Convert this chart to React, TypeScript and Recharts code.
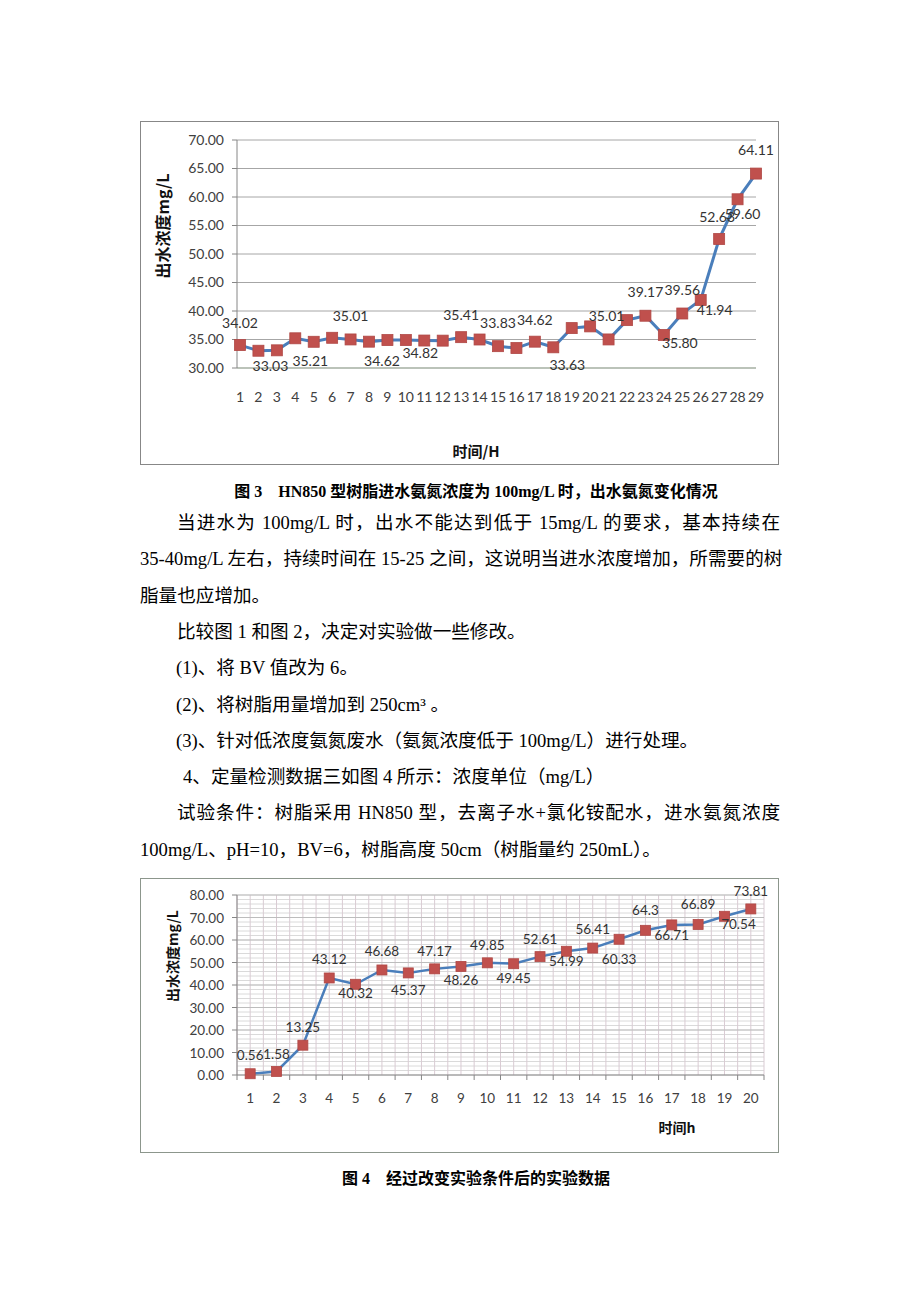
import React from 'react'
import { LineChart, Line, XAxis, YAxis, CartesianGrid, LabelList, ReferenceLine } from 'recharts'

// 图3：HN850 树脂，进水 100mg/L
const hours1 = [1, 2, 3, 4, 5, 6, 7, 8, 9, 10, 11, 12, 13, 14, 15, 16, 17, 18, 19, 20, 21, 22, 23, 24, 25, 26, 27, 28, 29]
const outflow1 = [34.02, 33.03, 33.1, 35.21, 34.6, 35.3, 35.01, 34.62, 34.9, 34.9, 34.82, 34.8, 35.41, 35.0, 33.83, 33.5, 34.62, 33.63, 37.0, 37.3, 35.01, 38.4, 39.17, 35.8, 39.56, 41.94, 52.63, 59.6, 64.11]
const yTicks1 = [30, 35, 40, 45, 50, 55, 60, 65, 70]

// 图4：改变实验条件后
const hours2 = [1, 2, 3, 4, 5, 6, 7, 8, 9, 10, 11, 12, 13, 14, 15, 16, 17, 18, 19, 20]
const outflow2 = [0.56, 1.58, 13.25, 43.12, 40.32, 46.68, 45.37, 47.17, 48.26, 49.85, 49.45, 52.61, 54.99, 56.41, 60.33, 64.3, 66.71, 66.89, 70.54, 73.81]
const yMajor2 = [0, 10, 20, 30, 40, 50, 60, 70, 80]

const rows1 = hours1.map((h, i) => ({ hour: h, value: outflow1[i] }))
const rows2 = hours2.map((h, i) => ({ hour: h, value: outflow2[i] }))

// half-category ticks for the second chart (boundaries + centres)
const xTicks2 = [hours2[0] - 0.5, ...hours2.flatMap(h => [h, h + 0.5])]
const yTicks2 = yMajor2.flatMap((v, i) => (i === 0 ? [v] : [v - 8, v - 6, v - 4, v - 2, v]))

const LATIN = 'Lato, "Noto Sans", sans-serif'
const BODY = '"Liberation Serif", "Noto Sans CJK SC", serif'
const CJK_BOLD = '"Noto Sans CJK SC", sans-serif'
const TICK_COLOR = '#404040'

// label offsets from the marker, per point index (only labelled points listed)
const labelOffsets1: Record<number, [number, number]> = {
  0: [0, -23], 1: [12, 15], 3: [15, 22], 6: [0, -24], 7: [13, 19], 10: [-4, 12],
  12: [0, -23], 14: [0, -24], 16: [0, -22], 17: [14, 17], 20: [-2, -24], 22: [0, -24],
  23: [16, 8], 24: [0, -24], 25: [14, 10], 26: [-2, -23], 27: [5, 14], 28: [0, -24],
}
const labelOffsets2: Record<number, [number, number]> = {
  0: [0, -19], 1: [0, -17], 2: [0, -18], 3: [0, -19], 4: [0, 9], 5: [0, -19], 6: [0, 17],
  7: [0, -18], 8: [0, 14], 9: [0, -18], 10: [0, 14], 11: [0, -18], 12: [0, 10], 13: [0, -19],
  14: [0, 20], 15: [0, -20], 16: [0, 10], 17: [0, -20], 18: [14, 8], 19: [0, -18],
}

function SquareDot(props: any) {
  const { cx, cy, size, index } = props
  if (cx == null || cy == null) return <g key={index} />
  return (
    <rect key={index} x={cx - size / 2} y={cy - size / 2} width={size} height={size}
      fill="#c0504d" stroke="#b04845" strokeWidth={0.8} />
  )
}

function makeLabel(offsets: Record<number, [number, number]>, fmt: (v: number) => string, fontSize: number) {
  return (props: any) => {
    const { x, y, value, index } = props
    const off = offsets[index]
    if (!off) return null
    return (
      <text x={x + off[0]} y={y + off[1]} textAnchor="middle" dominantBaseline="central"
        fontFamily={LATIN} fontSize={fontSize} fill="#333">
        {fmt(value)}
      </text>
    )
  }
}

function HourTick2(props: any) {
  const { x, y, payload } = props
  if (Number.isInteger(payload.value)) {
    return (
      <text x={x} y={y + 23} textAnchor="middle" dominantBaseline="central"
        fontFamily={LATIN} fontSize={13.5} fill={TICK_COLOR}>
        {payload.value}
      </text>
    )
  }
  return <line x1={x} x2={x} y1={y} y2={y + 5} stroke="#868686" />
}

function ValueTick2(props: any) {
  const { x, y, payload } = props
  if (payload.value % 10 !== 0) return <g />
  return (
    <g>
      <line x1={x - 5} x2={x} y1={y} y2={y} stroke="#868686" />
      <text x={x - 13} y={y} textAnchor="end" dominantBaseline="central"
        fontFamily={LATIN} fontSize={13.5} fill={TICK_COLOR}>
        {payload.value.toFixed(2)}
      </text>
    </g>
  )
}

function OutflowChart1() {
  return (
    <LineChart width={640} height={343} data={rows1} margin={{ top: 19, right: 24, left: 0, bottom: 0 }}>
      <CartesianGrid vertical={false} stroke="#a6a6a6" />
      <XAxis dataKey="hour" interval={0} tickLine={false} height={96} tickMargin={18}
        padding={{ left: 3, right: 0 }} axisLine={{ stroke: '#a3b39f' }}
        tick={{ fontSize: 14, fill: TICK_COLOR, fontFamily: LATIN }} />
      <YAxis domain={[30, 70]} ticks={yTicks1} width={97} tickSize={5} tickMargin={8}
        tickFormatter={(v: number) => v.toFixed(2)} axisLine={{ stroke: '#868686' }}
        tickLine={{ stroke: '#868686' }} tick={{ fontSize: 14, fill: TICK_COLOR, fontFamily: LATIN }} />
      <Line dataKey="value" stroke="#4a7ebb" strokeWidth={3} isAnimationActive={false}
        dot={(p: any) => <SquareDot key={p.index} {...p} size={11} />} activeDot={false}>
        <LabelList dataKey="value" content={makeLabel(labelOffsets1, v => v.toFixed(2), 14)} />
      </Line>
    </LineChart>
  )
}

function OutflowChart2() {
  return (
    <LineChart width={640} height={275} data={rows2} margin={{ top: 17, right: 16, left: 0, bottom: 0 }}>
      <CartesianGrid vertical={false} stroke="#dadada" />
      <CartesianGrid horizontal={false} stroke="#d9cbd3" />
      {yMajor2.slice(1).map(v => (
        <ReferenceLine key={v} y={v} stroke="#bdbdbd" />
      ))}
      <XAxis dataKey="hour" type="number" domain={[xTicks2[0], xTicks2[xTicks2.length - 1]]}
        ticks={xTicks2} interval={0} tickLine={false} tickSize={0} tickMargin={0} height={78}
        axisLine={{ stroke: '#868686' }} tick={<HourTick2 />} />
      <YAxis domain={[0, 80]} ticks={yTicks2} interval={0} width={97} tickLine={false}
        tickSize={0} tickMargin={0} axisLine={{ stroke: '#868686' }} tick={<ValueTick2 />} />
      <Line dataKey="value" stroke="#4a7ebb" strokeWidth={2.5} isAnimationActive={false}
        dot={(p: any) => <SquareDot key={p.index} {...p} size={10} />} activeDot={false}>
        <LabelList dataKey="value" content={makeLabel(labelOffsets2, v => String(v), 13.5)} />
      </Line>
    </LineChart>
  )
}

const bodyLines = [
  { text: '当进水为 100mg/L 时，出水不能达到低于 15mg/L 的要求，基本持续在', indent: 37, justify: true },
  { text: '35-40mg/L 左右，持续时间在 15-25 之间，这说明当进水浓度增加，所需要的树', indent: 0, justify: true },
  { text: '脂量也应增加。', indent: 0, justify: false },
  { text: '比较图 1 和图 2，决定对实验做一些修改。', indent: 37, justify: false },
  { text: '(1)、将 BV 值改为 6。', indent: 36, justify: false },
  { text: '(2)、将树脂用量增加到 250cm³ 。', indent: 36, justify: false },
  { text: '(3)、针对低浓度氨氮废水（氨氮浓度低于 100mg/L）进行处理。', indent: 36, justify: false },
  { text: '4、定量检测数据三如图 4 所示：浓度单位（mg/L）', indent: 43, justify: false },
  { text: '试验条件：树脂采用 HN850 型，去离子水+氯化铵配水，进水氨氮浓度', indent: 37, justify: true },
  { text: '100mg/L、pH=10，BV=6，树脂高度 50cm（树脂量约 250mL）。', indent: 0, justify: false },
]

export default function App() {
  return (
    <div style={{ position: 'absolute', left: 0, top: 0, width: 920, height: 1302, background: '#fff', overflow: 'hidden' }}>
      {/* 图3 */}
      <div style={{ position: 'absolute', left: 140, top: 121, width: 639, height: 344, border: '1px solid #878787', boxSizing: 'border-box' }} />
      <div style={{ position: 'absolute', left: 140, top: 121 }}>
        <OutflowChart1 />
      </div>
      <div style={{
        position: 'absolute', left: 162, top: 226, transform: 'translate(-50%, -50%) rotate(-90deg)',
        fontFamily: CJK_BOLD, fontWeight: 700, fontSize: 16, whiteSpace: 'nowrap', color: '#111',
      }}>出水浓度mg/L</div>
      <div style={{
        position: 'absolute', left: 476, top: 450, transform: 'translate(-50%, -50%)',
        fontFamily: CJK_BOLD, fontWeight: 700, fontSize: 15, whiteSpace: 'nowrap', color: '#111',
      }}>时间/H</div>

      <div style={{
        position: 'absolute', left: 140, width: 640, paddingLeft: 32, boxSizing: 'border-box', top: 480, height: 24,
        lineHeight: '24px', textAlign: 'center', fontFamily: BODY, fontWeight: 700, fontSize: 16, whiteSpace: 'nowrap',
      }}>图 3　HN850 型树脂进水氨氮浓度为 100mg/L 时，出水氨氮变化情况</div>

      {bodyLines.map((l, i) => (
        <div key={i} style={{
          position: 'absolute', left: 140, width: 640, top: 505 + i * 36.3, height: 36, lineHeight: '36px',
          paddingLeft: l.indent, boxSizing: 'border-box', fontFamily: BODY, fontSize: 18.6, whiteSpace: 'nowrap',
          textAlign: l.justify ? 'justify' : 'left', textAlignLast: l.justify ? 'justify' : 'left', color: '#000',
        }}>{l.text}</div>
      ))}

      {/* 图4 */}
      <div style={{ position: 'absolute', left: 140, top: 878, width: 639, height: 275, border: '1px solid #8c968c', boxSizing: 'border-box' }} />
      <div style={{ position: 'absolute', left: 140, top: 878 }}>
        <OutflowChart2 />
      </div>
      <div style={{
        position: 'absolute', left: 172, top: 956, transform: 'translate(-50%, -50%) rotate(-90deg)',
        fontFamily: CJK_BOLD, fontWeight: 700, fontSize: 14, whiteSpace: 'nowrap', color: '#111',
      }}>出水浓度mg/L</div>
      <div style={{
        position: 'absolute', left: 677, top: 1127, transform: 'translate(-50%, -50%)',
        fontFamily: CJK_BOLD, fontWeight: 700, fontSize: 14, whiteSpace: 'nowrap', color: '#111',
      }}>时间h</div>

      <div style={{
        position: 'absolute', left: 140, width: 640, paddingLeft: 32, boxSizing: 'border-box', top: 1167, height: 24,
        lineHeight: '24px', textAlign: 'center', fontFamily: BODY, fontWeight: 700, fontSize: 16, whiteSpace: 'nowrap',
      }}>图 4　经过改变实验条件后的实验数据</div>
    </div>
  )
}
